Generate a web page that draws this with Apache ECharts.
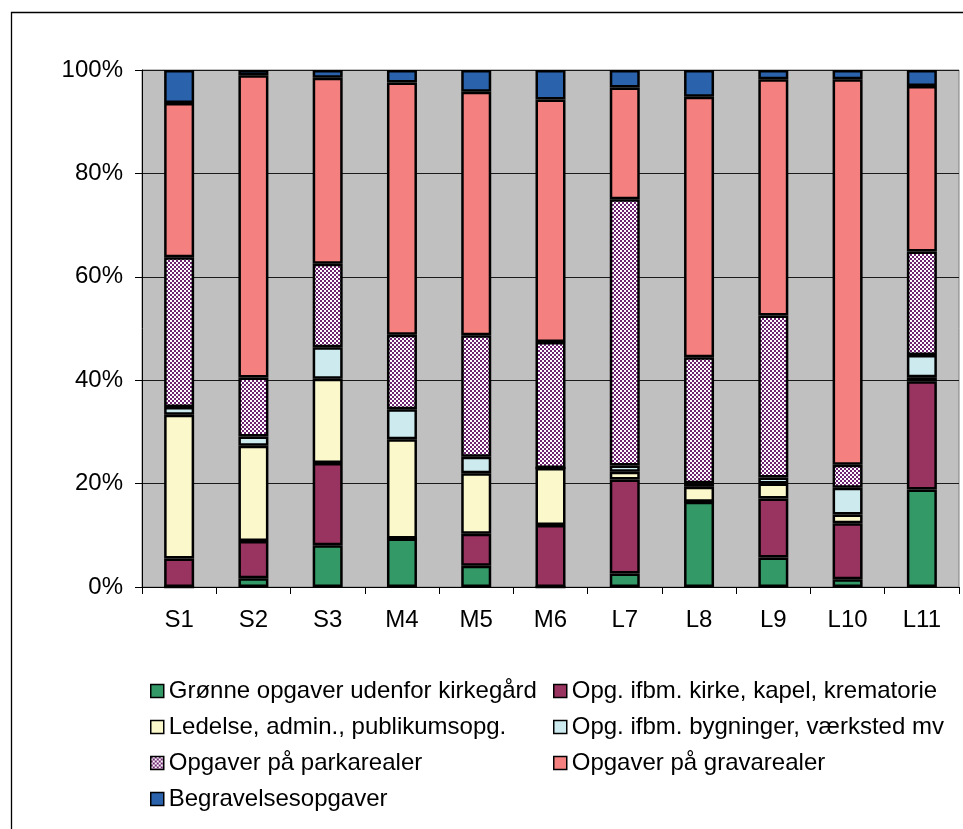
<!DOCTYPE html>
<html>
<head>
<meta charset="utf-8">
<script src="https://cdn.jsdelivr.net/npm/echarts@6/dist/echarts.min.js"></script>
<style>
html,body{margin:0;padding:0;background:#fff;}
#main{width:963px;height:829px;}
</style>
</head>
<body>
<div id="main"></div>
<script>
const categories = ['S1','S2','S3','M4','M5','M6','L7','L8','L9','L10','L11'];
const seriesNames = [
  'Grønne opgaver udenfor kirkegård',
  'Opg. ifbm. kirke, kapel, krematorie',
  'Ledelse, admin., publikumsopg.',
  'Opg. ifbm. bygninger, værksted mv',
  'Opgaver på parkarealer',
  'Opgaver på gravarealer',
  'Begravelsesopgaver'
];
const green     = [0,    1.7,  8.1,  9.4,  4.1,  0,    2.6,  16.5, 5.7,  1.5,  18.9];
const maroon    = [5.5,  7.2,  15.9, 0,    6.2,  12.0, 18.2, 0,    11.4, 10.8, 21.0];
const yellow    = [27.8, 18.4, 16.3, 19.2, 11.7, 11.0, 1.5,  2.9,  2.9,  1.7,  0.8];
const lightblue = [1.5,  1.8,  6.1,  5.8,  3.2,  0,    1.2,  0.7,  1.2,  5.2,  4.3];
const park      = [29.0, 11.4, 16.2, 14.4, 23.5, 24.4, 51.5, 24.4, 31.3, 4.4,  20.1];
const grav      = [29.8, 58.5, 36.0, 48.8, 47.1, 46.9, 21.6, 50.4, 45.7, 74.5, 32.1];
const begrav    = [6.4,  1.0,  1.5,  2.4,  4.2,  5.7,  3.4,  5.2,  1.8,  1.8,  3.1];
const yTicks = ['0%','20%','40%','60%','80%','100%'];

const raw = [green, maroon, yellow, lightblue, park, grav, begrav];
const totals = categories.map((c, i) => raw.reduce((s, arr) => s + arr[i], 0));
const pct = raw.map(arr => arr.map((v, i) => v / totals[i] * 100));

// checker pattern for parkarealer
const pc = document.createElement('canvas');
pc.width = 4; pc.height = 4;
const pctx = pc.getContext('2d');
pctx.fillStyle = '#ffffff'; pctx.fillRect(0, 0, 4, 4);
pctx.fillStyle = '#6e2470';
pctx.fillRect(0, 0, 2, 2); pctx.fillRect(2, 2, 2, 2);

const colors = ['#339966', '#993360', '#FBF8CC', '#CDEAEE', {image: pc, repeat: 'repeat'}, '#F48080', '#2A62AC'];

const FONT = '"Liberation Sans", Arial, sans-serif';
const FS = 24;
const legendPos = [
  [150, 679], [553, 679],
  [150, 715], [553, 715],
  [150, 751], [553, 751],
  [150, 787]
];

const chart = echarts.init(document.getElementById('main'), null, {renderer: 'canvas'});
chart.setOption({
  animation: false,
  backgroundColor: '#ffffff',
  textStyle: {fontFamily: FONT},
  graphic: [{
    type: 'rect', silent: true, z: 0,
    shape: {x: 11.5, y: 12.5, width: 1000, height: 1000},
    style: {fill: 'none', stroke: '#000', lineWidth: 1.3}
  }],
  grid: {
    left: 142, right: 4, top: 70, bottom: 242,
    show: true, backgroundColor: '#C0C0C0', borderColor: '#808080', borderWidth: 1
  },
  legend: legendPos.map((p, i) => ({
    data: [seriesNames[i]],
    left: p[0], top: p[1],
    padding: 0,
    icon: 'rect', itemWidth: 13, itemHeight: 13, itemGap: 0,
    textStyle: {fontSize: FS, fontFamily: FONT, color: '#000', padding: [0, 0, 0, 0]},
    itemStyle: {borderColor: '#000', borderWidth: 1.5}
  })),
  xAxis: {
    type: 'category',
    data: categories,
    axisLine: {lineStyle: {color: '#000', width: 1}},
    axisTick: {show: true, length: 7, lineStyle: {color: '#000'}, alignWithLabel: false},
    axisLabel: {fontSize: FS, color: '#000', margin: 21, fontFamily: FONT}
  },
  yAxis: {
    type: 'value', min: 0, max: 100, interval: 20,
    axisLine: {show: true, lineStyle: {color: '#000', width: 1}},
    axisTick: {show: true, length: 7, lineStyle: {color: '#000'}},
    axisLabel: {fontSize: FS, color: '#000', margin: 19, fontFamily: FONT,
      formatter: (v) => yTicks[Math.round(v / 20)]},
    splitLine: {show: true, lineStyle: {color: '#1a1a1a', width: 1}}
  },
  series: pct.map((d, i) => ({
    name: seriesNames[i],
    type: 'bar',
    stack: 'total',
    barWidth: 30,
    data: d,
    itemStyle: {color: colors[i], borderColor: '#000', borderWidth: 2.5}
  }))
});
</script>
</body>
</html>
